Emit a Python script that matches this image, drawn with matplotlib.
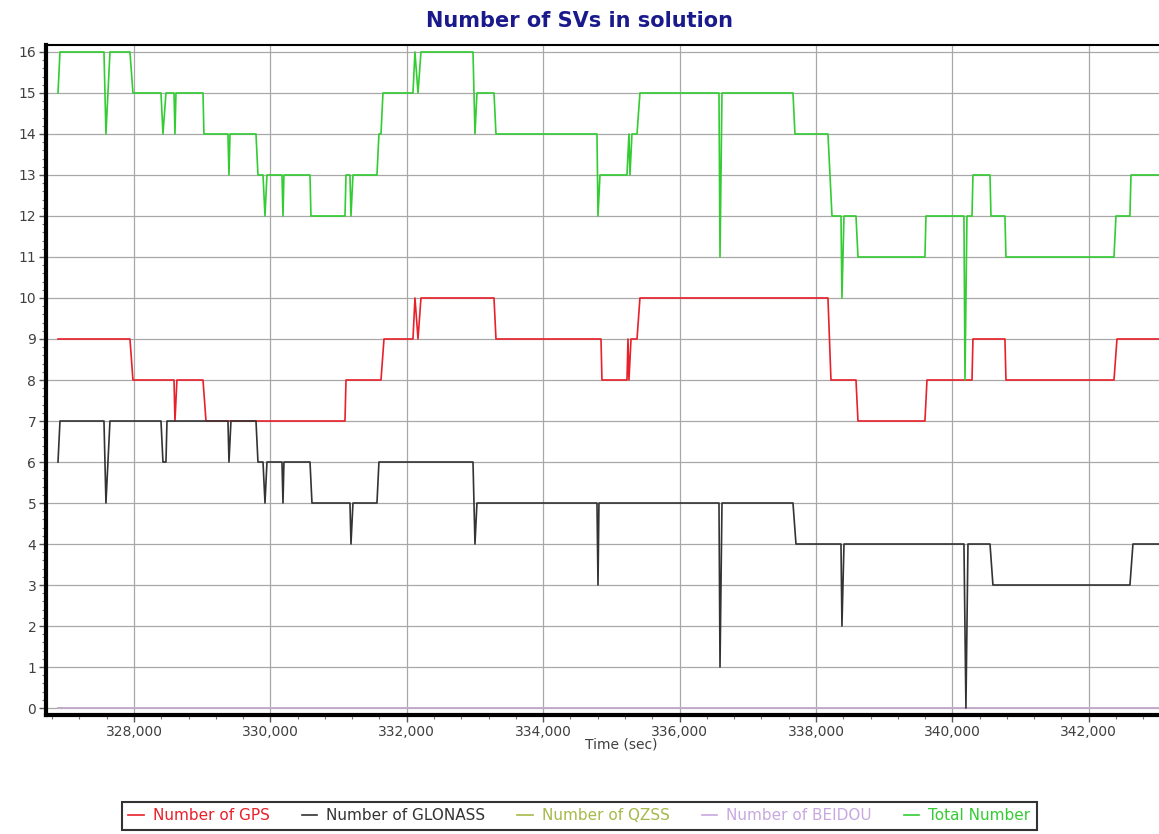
import matplotlib
matplotlib.use("Agg")
import matplotlib.pyplot as plt
from matplotlib.ticker import MultipleLocator, FuncFormatter

# ---- data (time in seconds, value = number of satellites) ----
total_t = [326886, 326915, 327560, 327589, 327648, 327941, 327985, 328396, 328425, 328469,
           328587, 328601, 328616, 329012, 329026, 329378, 329393, 329408, 329789, 329818,
           329892, 329921, 329950, 330170, 330185, 330199, 330581, 330595, 331094, 331109,
           331167, 331182, 331211, 331563, 331592, 331622, 331651, 332091, 332120, 332165,
           332208, 332971, 333000, 333029, 333279, 333308, 334789, 334804, 334833, 335229,
           335258, 335273, 335302, 335376, 335419, 336578, 336593, 336622, 337663, 337692,
           338176, 338235, 338367, 338381, 338411, 338587, 338616, 339598, 339613, 340170,
           340185, 340214, 340288, 340302, 340552, 340566, 340771, 340786, 342370, 342399,
           342604, 342619, 343030]
total_v = [15, 16, 16, 14, 16, 16, 15, 15, 14, 15,
           15, 14, 15, 15, 14, 14, 13, 14, 14, 13,
           13, 12, 13, 13, 12, 13, 13, 12, 12, 13,
           13, 12, 13, 13, 14, 14, 15, 15, 16, 15,
           16, 16, 14, 15, 15, 14, 14, 12, 13, 13,
           14, 13, 14, 14, 15, 15, 11, 15, 15, 14,
           14, 12, 12, 10, 12, 12, 11, 11, 12, 12,
           8, 12, 12, 13, 13, 12, 12, 11, 11, 12,
           12, 13, 13]

gps_t = [326886, 327941, 327985, 328587, 328601, 328630, 329012, 329056, 331094, 331109,
         331622, 331666, 332091, 332120, 332165, 332208, 333279, 333308, 334848, 334862,
         335229, 335244, 335258, 335288, 335376, 335419, 338176, 338220, 338587, 338616,
         339598, 339628, 340288, 340302, 340771, 340786, 342370, 342414, 343030]
gps_v = [9, 9, 8, 8, 7, 8, 8, 7, 7, 8,
         8, 9, 9, 10, 9, 10, 10, 9, 9, 8,
         8, 9, 8, 9, 9, 10, 10, 8, 8, 7,
         7, 8, 8, 9, 9, 8, 8, 9, 9]

glo_t = [326886, 326915, 327560, 327589, 327648, 328396, 328425, 328469, 328484, 329378,
         329393, 329422, 329789, 329818, 329892, 329921, 329950, 330170, 330185, 330199,
         330581, 330610, 331167, 331182, 331211, 331563, 331592, 332971, 333000, 333029,
         334789, 334804, 334818, 336578, 336593, 336622, 337663, 337707, 338367, 338381,
         338411, 340170, 340199, 340229, 340552, 340595, 342604, 342648, 343030]
glo_v = [6, 7, 7, 5, 7, 7, 6, 6, 7, 7,
         6, 7, 7, 6, 6, 5, 6, 6, 5, 6,
         6, 5, 5, 4, 5, 5, 6, 6, 4, 5,
         5, 3, 5, 5, 1, 5, 5, 4, 4, 2,
         4, 4, 0, 4, 4, 3, 3, 4, 4]

qzss_t = [326886, 343030]
qzss_v = [0, 0]
beidou_t = [326886, 343030]
beidou_v = [0, 0]

labels = ["Number of GPS", "Number of GLONASS", "Number of QZSS", "Number of BEIDOU", "Total Number"]
colors = ["#e8202a", "#333333", "#a8b84a", "#c8a8e0", "#33cc33"]

# ---- figure ----
fig = plt.figure(figsize=(11.59, 8.34), dpi=100)
ax = fig.add_axes([46 / 1159, 1 - 715 / 834, 1 - 46 / 1159, (715 - 45) / 834])

lines = []
lines += ax.plot(gps_t, gps_v, color=colors[0], lw=1.2, zorder=4)
lines += ax.plot(glo_t, glo_v, color=colors[1], lw=1.2, zorder=4)
lines += ax.plot(qzss_t, qzss_v, color=colors[2], lw=1.2, zorder=3)
lines += ax.plot(beidou_t, beidou_v, color=colors[3], lw=1.2, zorder=3)
lines += ax.plot(total_t, total_v, color=colors[4], lw=1.2, zorder=4)

ax.set_xlim(326710, 343030)
ax.set_ylim(-0.17, 16.17)

ax.xaxis.set_major_locator(MultipleLocator(2000))
ax.xaxis.set_minor_locator(MultipleLocator(400))
ax.yaxis.set_major_locator(MultipleLocator(1))
ax.yaxis.set_minor_locator(MultipleLocator(0.2))
ax.xaxis.set_major_formatter(FuncFormatter(lambda v, p: f"{int(round(v)):,}"))

ax.grid(True, which="major", color="#a8a8a8", lw=0.9)
ax.set_axisbelow(True)

ax.tick_params(axis="both", which="major", length=5, width=1, color="#555555",
               labelsize=10, labelcolor="#404040", pad=2)
ax.tick_params(axis="both", which="minor", length=3, width=0.8, color="#777777")

for s in ["left", "bottom"]:
    ax.spines[s].set_linewidth(3)
    ax.spines[s].set_color("black")
ax.spines["top"].set_linewidth(1.5)
ax.spines["top"].set_color("black")
ax.spines["right"].set_visible(False)

fig.text(0.5, 1 - 21 / 834, "Number of SVs in solution", ha="center", va="center",
         fontsize=15, fontweight="bold", color="#1a1a8c")
fig.text(621 / 1159, 1 - 745 / 834, "Time (sec)", ha="center", va="center",
         fontsize=10, color="#404040")

leg = fig.legend(lines, labels, loc="center", bbox_to_anchor=(0.5, 1 - 816 / 834),
                 ncol=5, fancybox=False, frameon=True, edgecolor="black",
                 fontsize=11, handlelength=1.0, handletextpad=0.6, columnspacing=2.1,
                 borderpad=0.45)
leg.get_frame().set_linewidth(1.5)
for txt, c in zip(leg.get_texts(), colors):
    txt.set_color(c)

fig.savefig("out.png", dpi=100, facecolor="white")
